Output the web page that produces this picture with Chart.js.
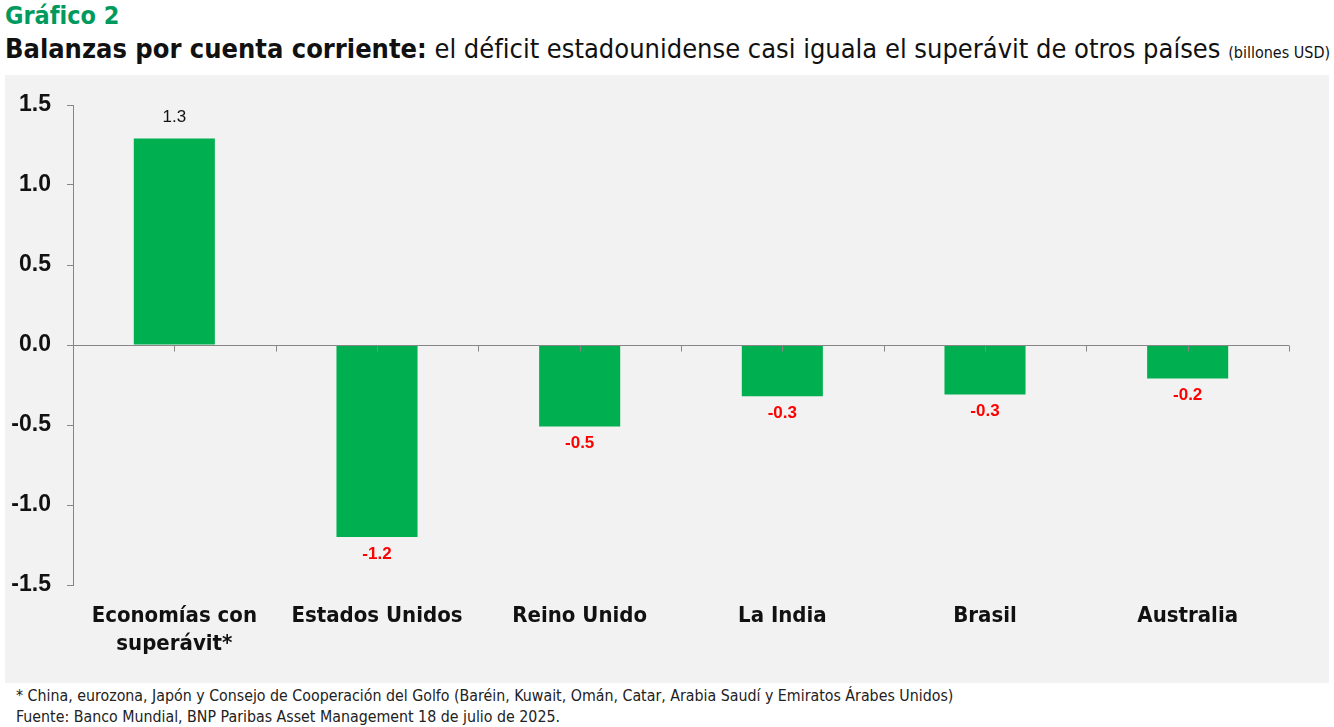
<!DOCTYPE html>
<html lang="es">
<head>
<meta charset="utf-8">
<title>Gráfico 2</title>
<script src="https://cdn.jsdelivr.net/npm/chart.js@4.4.1/dist/chart.umd.min.js"></script>
<style>
  html, body { margin: 0; padding: 0; background: #fff; }
  body { width: 1334px; height: 727px; position: relative; overflow: hidden;
         font-family: "Liberation Sans Narrow", "DejaVu Sans Condensed", sans-serif; color: #111; }
  #kicker { position: absolute; left: 5px; top: 1px; font-size: 25px; font-weight: bold; color: #009a5e; }
  #titulo { position: absolute; left: 5px; top: 33px; font-size: 27px; white-space: nowrap; }
  #titulo b { font-weight: bold; }
  #titulo small { font-size: 16px; }
  #panel { position: absolute; left: 5px; top: 75px; width: 1324px; height: 608px; background: #f2f2f2; }
  #notas { position: absolute; left: 16px; top: 685px; font-size: 15.8px; line-height: 21px; color: #222; white-space: nowrap; }
</style>
</head>
<body>
<div id="kicker">Gráfico 2</div>
<div id="titulo"><b>Balanzas por cuenta corriente:</b> el déficit estadounidense casi iguala el superávit de otros países <small>(billones USD)</small></div>
<div id="panel"><canvas id="grafico" width="1324" height="608"></canvas></div>
<div id="notas">* China, eurozona, Japón y Consejo de Cooperación del Golfo (Baréin, Kuwait, Omán, Catar, Arabia Saudí y Emiratos Árabes Unidos)<br>Fuente: Banco Mundial, BNP Paribas Asset Management 18 de julio de 2025.</div>

<script>
// Datos
const categorias = [['Economías con', 'superávit*'], 'Estados Unidos', 'Reino Unido', 'La India', 'Brasil', 'Australia'];
const balanza = [1.29, -1.2, -0.51, -0.32, -0.31, -0.21];
const ticksY = [1.5, 1.0, 0.5, 0.0, -0.5, -1.0, -1.5];

const VERDE = '#00b050';
const GRIS_EJE = '#868686';

// Línea del cero con marcas en el centro y en los límites de cada categoría
const ejeCero = {
    id: 'ejeCero',
    afterDatasetsDraw(chart) {
        const { ctx, chartArea, scales: { x, y } } = chart;
        const y0 = Math.round(y.getPixelForValue(0)) + 0.5;
        const paso = x.getPixelForValue(1) - x.getPixelForValue(0);
        ctx.save();
        ctx.strokeStyle = GRIS_EJE;
        ctx.lineWidth = 1;
        ctx.beginPath();
        ctx.moveTo(chartArea.left, y0);
        ctx.lineTo(chartArea.right, y0);
        categorias.forEach((c, i) => {
            const cx = Math.round(x.getPixelForValue(i)) + 0.5;
            const bx = Math.round(x.getPixelForValue(i) + paso / 2) + 0.5;
            ctx.moveTo(cx, y0);
            ctx.lineTo(cx, y0 + 6);
            ctx.moveTo(bx, y0);
            ctx.lineTo(bx, y0 + 6);
        });
        ctx.stroke();
        ctx.restore();
    }
};

// Etiquetas de valor
const etiquetas = {
    id: 'etiquetas',
    afterDatasetsDraw(chart) {
        const { ctx } = chart;
        const meta = chart.getDatasetMeta(0);
        ctx.save();
        ctx.textAlign = 'center';
        ctx.textBaseline = 'middle';
        meta.data.forEach((bar, i) => {
            const v = balanza[i];
            if (v >= 0) {
                ctx.fillStyle = '#111';
                ctx.font = '17px "Liberation Sans", Arial, sans-serif';
                ctx.fillText(v.toFixed(1), bar.x, bar.y - 21);
            } else {
                ctx.fillStyle = '#ff0000';
                ctx.font = 'bold 17px "Liberation Sans", Arial, sans-serif';
                ctx.fillText(v.toFixed(1), bar.x, bar.y + 17);
            }
        });
        ctx.restore();
    }
};

const ctx = document.getElementById('grafico').getContext('2d');
new Chart(ctx, {
    type: 'bar',
    data: {
        labels: categorias,
        datasets: [{
            data: balanza,
            backgroundColor: VERDE,
            borderWidth: 0,
            barPercentage: 0.4,
            categoryPercentage: 1.0
        }]
    },
    options: {
        responsive: false,
        animation: false,
        devicePixelRatio: 1,
        layout: { padding: { top: 30, right: 40, bottom: 0, left: 0 } },
        plugins: { legend: { display: false }, tooltip: { enabled: false } },
        scales: {
            y: {
                min: -1.5,
                max: 1.5,
                afterBuildTicks(scale) {
                    scale.ticks = ticksY.map(v => ({ value: v }));
                },
                afterFit(scale) { scale.width = 68; },
                border: { display: true, color: GRIS_EJE },
                grid: { drawOnChartArea: false, drawTicks: true, tickLength: 6, color: GRIS_EJE },
                ticks: {
                    padding: 16,
                    color: '#111',
                    font: { family: '"Liberation Sans", Arial, sans-serif', size: 23, weight: 'bold' },
                    callback: v => Number(v).toFixed(1)
                }
            },
            x: {
                afterFit(scale) { scale.height = 98; },
                border: { display: false },
                grid: { display: false },
                ticks: {
                    padding: 9,
                    color: '#111',
                    maxRotation: 0,
                    autoSkip: false,
                    font: { family: '"Liberation Sans Narrow", "DejaVu Sans Condensed", sans-serif', size: 22, weight: 'bold', lineHeight: 1.27 }
                }
            }
        }
    },
    plugins: [ejeCero, etiquetas]
});
</script>
</body>
</html>
